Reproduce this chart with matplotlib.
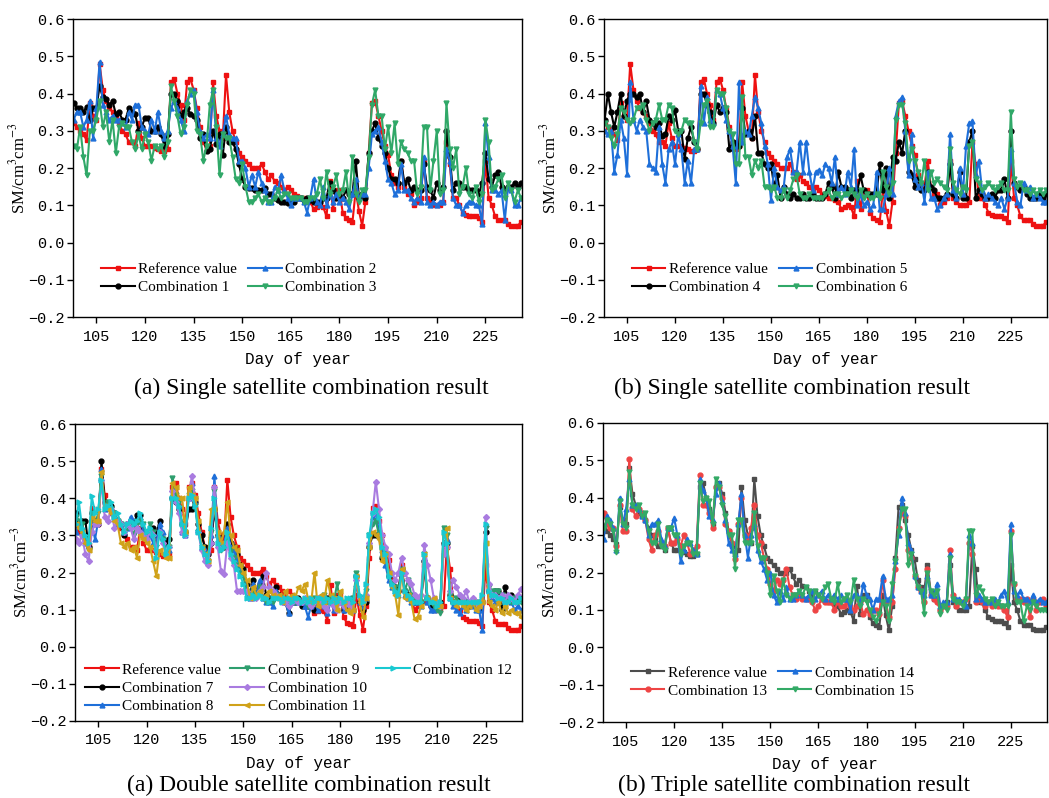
import matplotlib
matplotlib.use('Agg')
import matplotlib.pyplot as plt
import numpy as np

plt.rcParams['mathtext.fontset'] = 'stix'

# soil moisture, day of year 98..236
ref = [
    0.32, 0.31, 0.30, 0.29, 0.275, 0.375, 0.34, 0.33, 0.48, 0.41,   # 98
    0.38, 0.36, 0.35, 0.34, 0.32, 0.30, 0.29, 0.27, 0.27, 0.26,     # 108
    0.32, 0.28, 0.26, 0.26, 0.26, 0.255, 0.25, 0.245, 0.245, 0.25,  # 118
    0.43, 0.44, 0.40, 0.37, 0.33, 0.43, 0.44, 0.41, 0.36, 0.31,     # 128
    0.27, 0.25, 0.26, 0.43, 0.34, 0.30, 0.28, 0.45, 0.35, 0.30,     # 138
    0.27, 0.24, 0.23, 0.22, 0.21, 0.20, 0.20, 0.20, 0.21, 0.19,     # 148
    0.17, 0.18, 0.165, 0.16, 0.15, 0.14, 0.15, 0.14, 0.13, 0.125,   # 158
    0.12, 0.12, 0.115, 0.11, 0.09, 0.095, 0.10, 0.095, 0.07, 0.165,  # 168
    0.09, 0.14, 0.14, 0.08, 0.065, 0.06, 0.055, 0.14, 0.085, 0.045,  # 178
    0.11, 0.24, 0.375, 0.38, 0.34, 0.30, 0.26, 0.235, 0.18, 0.16,   # 188
    0.15, 0.22, 0.15, 0.13, 0.13, 0.10, 0.11, 0.12, 0.22, 0.12,     # 198
    0.11, 0.10, 0.10, 0.10, 0.11, 0.27, 0.21, 0.12, 0.12, 0.10,     # 208
    0.08, 0.075, 0.07, 0.07, 0.07, 0.065, 0.055, 0.22, 0.12, 0.10,  # 218
    0.07, 0.06, 0.06, 0.06, 0.05, 0.045, 0.045, 0.045, 0.055,       # 228
]

comb1 = [
    0.375, 0.36, 0.36, 0.35, 0.365, 0.33, 0.36, 0.36, 0.42, 0.39,
    0.385, 0.37, 0.38, 0.345, 0.35, 0.33, 0.33, 0.36, 0.35, 0.345,
    0.30, 0.31, 0.335, 0.335, 0.30, 0.30, 0.31, 0.29, 0.26, 0.29,
    0.40, 0.40, 0.38, 0.34, 0.35, 0.36, 0.345, 0.34, 0.33, 0.28,
    0.29, 0.245, 0.25, 0.30, 0.265, 0.29, 0.235, 0.31, 0.27, 0.27,
    0.25, 0.21, 0.17, 0.15, 0.145, 0.145, 0.14, 0.14, 0.14, 0.145,
    0.13, 0.13, 0.12, 0.115, 0.11, 0.11, 0.105, 0.11, 0.11, 0.12,
    0.12, 0.115, 0.12, 0.115, 0.11, 0.11, 0.11, 0.12, 0.12, 0.16,
    0.14, 0.12, 0.13, 0.12, 0.14, 0.13, 0.13, 0.22, 0.12, 0.13,
    0.12, 0.24, 0.30, 0.32, 0.28, 0.26, 0.24, 0.20, 0.17, 0.17,
    0.16, 0.22, 0.16, 0.17, 0.14, 0.15, 0.14, 0.14, 0.21, 0.15,
    0.14, 0.12, 0.16, 0.14, 0.15, 0.30, 0.23, 0.14, 0.16, 0.16,
    0.15, 0.15, 0.14, 0.14, 0.14, 0.13, 0.16, 0.24, 0.17, 0.15,
    0.18, 0.19, 0.15, 0.14, 0.15, 0.15, 0.16, 0.15, 0.16,
]

comb2 = [
    0.33, 0.35, 0.35, 0.31, 0.33, 0.38, 0.28, 0.36, 0.485, 0.37,
    0.35, 0.33, 0.34, 0.33, 0.33, 0.32, 0.31, 0.35, 0.33, 0.37,
    0.37, 0.31, 0.30, 0.29, 0.33, 0.30, 0.35, 0.30, 0.28, 0.30,
    0.36, 0.38, 0.36, 0.33, 0.30, 0.38, 0.40, 0.41, 0.35, 0.30,
    0.28, 0.29, 0.28, 0.41, 0.28, 0.26, 0.29, 0.34, 0.29, 0.28,
    0.28, 0.22, 0.22, 0.20, 0.15, 0.18, 0.15, 0.19, 0.16, 0.14,
    0.11, 0.11, 0.15, 0.14, 0.18, 0.14, 0.12, 0.10, 0.12, 0.12,
    0.12, 0.11, 0.08, 0.12, 0.17, 0.11, 0.10, 0.15, 0.10, 0.13,
    0.11, 0.13, 0.11, 0.12, 0.11, 0.09, 0.13, 0.17, 0.12, 0.13,
    0.13, 0.20, 0.29, 0.30, 0.31, 0.27, 0.22, 0.17, 0.16, 0.13,
    0.14, 0.21, 0.14, 0.14, 0.12, 0.11, 0.12, 0.11, 0.23, 0.11,
    0.10, 0.11, 0.10, 0.11, 0.11, 0.25, 0.22, 0.12, 0.10, 0.10,
    0.08, 0.10, 0.11, 0.11, 0.10, 0.10, 0.05, 0.32, 0.23, 0.14,
    0.14, 0.13, 0.14, 0.06, 0.15, 0.14, 0.10, 0.10, 0.12,
]

comb3 = [
    0.26, 0.25, 0.31, 0.23, 0.18, 0.30, 0.30, 0.33, 0.38, 0.31,
    0.35, 0.27, 0.33, 0.24, 0.31, 0.32, 0.31, 0.31, 0.27, 0.25,
    0.29, 0.25, 0.29, 0.27, 0.22, 0.26, 0.25, 0.26, 0.23, 0.27,
    0.42, 0.38, 0.34, 0.29, 0.31, 0.37, 0.41, 0.40, 0.30, 0.29,
    0.22, 0.26, 0.37, 0.41, 0.31, 0.18, 0.29, 0.28, 0.28, 0.23,
    0.17, 0.16, 0.21, 0.15, 0.11, 0.11, 0.12, 0.13, 0.11, 0.12,
    0.11, 0.11, 0.12, 0.14, 0.12, 0.13, 0.13, 0.12, 0.12, 0.12,
    0.12, 0.11, 0.11, 0.12, 0.12, 0.13, 0.17, 0.12, 0.19, 0.13,
    0.15, 0.18, 0.13, 0.14, 0.19, 0.11, 0.23, 0.13, 0.11, 0.14,
    0.14, 0.23, 0.37, 0.41, 0.34, 0.34, 0.25, 0.31, 0.24, 0.32,
    0.21, 0.27, 0.25, 0.24, 0.22, 0.22, 0.13, 0.15, 0.31, 0.31,
    0.14, 0.22, 0.30, 0.13, 0.14, 0.375, 0.25, 0.20, 0.25, 0.13,
    0.15, 0.20, 0.13, 0.12, 0.15, 0.11, 0.13, 0.33, 0.27, 0.14,
    0.15, 0.17, 0.18, 0.12, 0.16, 0.14, 0.11, 0.14, 0.12,
]

comb4 = [
    0.33, 0.40, 0.35, 0.31, 0.35, 0.40, 0.34, 0.38, 0.40, 0.40,
    0.39, 0.40, 0.35, 0.38, 0.33, 0.32, 0.31, 0.32, 0.285, 0.29,
    0.34, 0.33, 0.355, 0.30, 0.30, 0.225, 0.28, 0.31, 0.27, 0.25,
    0.40, 0.40, 0.37, 0.35, 0.32, 0.37, 0.35, 0.36, 0.35, 0.25,
    0.27, 0.26, 0.26, 0.36, 0.29, 0.30, 0.28, 0.34, 0.24, 0.24,
    0.21, 0.20, 0.21, 0.15, 0.18, 0.12, 0.15, 0.13, 0.12, 0.13,
    0.12, 0.12, 0.13, 0.12, 0.12, 0.13, 0.12, 0.12, 0.12, 0.13,
    0.16, 0.15, 0.12, 0.19, 0.15, 0.15, 0.14, 0.12, 0.14, 0.14,
    0.18, 0.14, 0.13, 0.13, 0.13, 0.13, 0.21, 0.14, 0.20, 0.12,
    0.23, 0.22, 0.27, 0.24, 0.30, 0.19, 0.18, 0.15, 0.17, 0.14,
    0.14, 0.19, 0.15, 0.14, 0.12, 0.12, 0.12, 0.13, 0.21, 0.13,
    0.12, 0.19, 0.12, 0.12, 0.27, 0.30, 0.12, 0.14, 0.13, 0.12,
    0.12, 0.13, 0.12, 0.14, 0.14, 0.17, 0.12, 0.30, 0.16, 0.15,
    0.14, 0.15, 0.13, 0.12, 0.12, 0.12, 0.13, 0.12, 0.13,
]

comb5 = [
    0.30, 0.29, 0.30, 0.19, 0.235, 0.33, 0.28, 0.185, 0.43, 0.33,
    0.30, 0.33, 0.31, 0.30, 0.21, 0.20, 0.19, 0.31, 0.21, 0.16,
    0.25, 0.27, 0.21, 0.29, 0.25, 0.16, 0.22, 0.16, 0.25, 0.25,
    0.42, 0.32, 0.39, 0.33, 0.32, 0.41, 0.40, 0.36, 0.33, 0.30,
    0.26, 0.16, 0.43, 0.27, 0.30, 0.29, 0.34, 0.39, 0.36, 0.32,
    0.26, 0.21, 0.115, 0.20, 0.15, 0.14, 0.15, 0.23, 0.25, 0.19,
    0.19, 0.27, 0.19, 0.27, 0.19, 0.14, 0.19, 0.195, 0.18, 0.21,
    0.20, 0.16, 0.23, 0.13, 0.15, 0.13, 0.19, 0.15, 0.25, 0.10,
    0.13, 0.10, 0.11, 0.09, 0.10, 0.19, 0.09, 0.09, 0.13, 0.20,
    0.13, 0.34, 0.38, 0.39, 0.30, 0.18, 0.29, 0.17, 0.15, 0.16,
    0.11, 0.19, 0.12, 0.12, 0.09, 0.10, 0.12, 0.13, 0.29, 0.14,
    0.12, 0.20, 0.13, 0.26, 0.32, 0.325, 0.18, 0.22, 0.14, 0.12,
    0.13, 0.12, 0.11, 0.10, 0.12, 0.09, 0.12, 0.25, 0.16, 0.11,
    0.10, 0.16, 0.14, 0.15, 0.12, 0.13, 0.12, 0.11, 0.11,
]

comb6 = [
    0.32, 0.31, 0.28, 0.26, 0.29, 0.36, 0.35, 0.33, 0.32, 0.33,
    0.36, 0.36, 0.37, 0.33, 0.30, 0.32, 0.33, 0.37, 0.33, 0.33,
    0.37, 0.36, 0.30, 0.29, 0.30, 0.33, 0.32, 0.32, 0.27, 0.25,
    0.32, 0.37, 0.38, 0.31, 0.31, 0.41, 0.40, 0.40, 0.36, 0.30,
    0.29, 0.21, 0.21, 0.39, 0.23, 0.23, 0.18, 0.22, 0.20, 0.22,
    0.15, 0.15, 0.14, 0.15, 0.12, 0.12, 0.14, 0.12, 0.14, 0.17,
    0.18, 0.13, 0.12, 0.12, 0.13, 0.12, 0.12, 0.12, 0.12, 0.13,
    0.14, 0.12, 0.13, 0.13, 0.12, 0.13, 0.13, 0.14, 0.13, 0.12,
    0.14, 0.12, 0.13, 0.12, 0.12, 0.13, 0.12, 0.19, 0.15, 0.13,
    0.16, 0.33, 0.37, 0.37, 0.32, 0.22, 0.25, 0.22, 0.19, 0.16,
    0.22, 0.14, 0.19, 0.16, 0.17, 0.16, 0.15, 0.14, 0.25, 0.16,
    0.14, 0.13, 0.15, 0.14, 0.26, 0.27, 0.17, 0.16, 0.14, 0.15,
    0.16, 0.15, 0.14, 0.15, 0.16, 0.14, 0.14, 0.35, 0.17, 0.15,
    0.16, 0.14, 0.14, 0.13, 0.14, 0.13, 0.14, 0.13, 0.14,
]

comb7 = [
    0.36, 0.33, 0.34, 0.34, 0.27, 0.36, 0.34, 0.33, 0.50, 0.39,
    0.38, 0.38, 0.36, 0.34, 0.33, 0.30, 0.33, 0.34, 0.33, 0.355,
    0.355, 0.30, 0.31, 0.30, 0.32, 0.30, 0.34, 0.29, 0.28, 0.29,
    0.40, 0.39, 0.37, 0.33, 0.31, 0.37, 0.37, 0.39, 0.33, 0.30,
    0.27, 0.25, 0.28, 0.37, 0.30, 0.27, 0.27, 0.33, 0.28, 0.27,
    0.25, 0.22, 0.21, 0.17, 0.14, 0.18, 0.15, 0.17, 0.19, 0.14,
    0.13, 0.13, 0.16, 0.14, 0.13, 0.12, 0.09, 0.12, 0.12, 0.13,
    0.11, 0.11, 0.11, 0.12, 0.10, 0.11, 0.12, 0.12, 0.13, 0.12,
    0.12, 0.13, 0.12, 0.10, 0.11, 0.12, 0.10, 0.19, 0.12, 0.10,
    0.12, 0.27, 0.30, 0.30, 0.30, 0.24, 0.25, 0.19, 0.17, 0.16,
    0.15, 0.21, 0.15, 0.14, 0.13, 0.12, 0.13, 0.12, 0.23, 0.13,
    0.11, 0.12, 0.11, 0.12, 0.28, 0.28, 0.14, 0.12, 0.12, 0.13,
    0.12, 0.12, 0.11, 0.12, 0.11, 0.10, 0.12, 0.31, 0.15, 0.14,
    0.15, 0.15, 0.10, 0.16, 0.13, 0.14, 0.13, 0.13, 0.13,
]

comb8 = [
    0.31, 0.33, 0.32, 0.28, 0.27, 0.33, 0.29, 0.34, 0.48, 0.37,
    0.38, 0.37, 0.36, 0.33, 0.33, 0.31, 0.32, 0.35, 0.33, 0.34,
    0.35, 0.31, 0.31, 0.30, 0.28, 0.28, 0.33, 0.31, 0.25, 0.26,
    0.41, 0.40, 0.38, 0.31, 0.30, 0.40, 0.44, 0.39, 0.32, 0.27,
    0.26, 0.24, 0.30, 0.46, 0.30, 0.27, 0.28, 0.32, 0.27, 0.26,
    0.24, 0.21, 0.20, 0.15, 0.13, 0.17, 0.14, 0.18, 0.13, 0.12,
    0.12, 0.11, 0.15, 0.14, 0.13, 0.12, 0.09, 0.12, 0.13, 0.12,
    0.12, 0.11, 0.08, 0.11, 0.12, 0.10, 0.13, 0.11, 0.09, 0.12,
    0.10, 0.13, 0.12, 0.10, 0.12, 0.13, 0.10, 0.17, 0.12, 0.11,
    0.13, 0.28, 0.35, 0.36, 0.31, 0.26, 0.22, 0.18, 0.16, 0.15,
    0.14, 0.20, 0.14, 0.13, 0.12, 0.12, 0.12, 0.11, 0.24, 0.12,
    0.10, 0.10, 0.11, 0.11, 0.28, 0.29, 0.13, 0.11, 0.10, 0.09,
    0.11, 0.10, 0.12, 0.11, 0.10, 0.10, 0.045, 0.33, 0.15, 0.13,
    0.12, 0.12, 0.13, 0.11, 0.14, 0.12, 0.10, 0.11, 0.10,
]

comb9 = [
    0.35, 0.34, 0.33, 0.29, 0.26, 0.36, 0.33, 0.36, 0.46, 0.38,
    0.39, 0.37, 0.36, 0.34, 0.33, 0.31, 0.32, 0.33, 0.30, 0.33,
    0.34, 0.33, 0.30, 0.33, 0.31, 0.27, 0.30, 0.29, 0.25, 0.27,
    0.455, 0.41, 0.39, 0.33, 0.31, 0.41, 0.42, 0.38, 0.31, 0.27,
    0.25, 0.23, 0.31, 0.42, 0.29, 0.26, 0.27, 0.30, 0.26, 0.24,
    0.22, 0.20, 0.19, 0.14, 0.13, 0.15, 0.14, 0.16, 0.13, 0.12,
    0.12, 0.12, 0.14, 0.13, 0.13, 0.12, 0.11, 0.12, 0.12, 0.12,
    0.12, 0.12, 0.11, 0.12, 0.13, 0.12, 0.13, 0.14, 0.12, 0.13,
    0.12, 0.17, 0.12, 0.11, 0.12, 0.12, 0.13, 0.20, 0.13, 0.12,
    0.15, 0.30, 0.33, 0.34, 0.30, 0.24, 0.26, 0.20, 0.17, 0.16,
    0.15, 0.21, 0.15, 0.18, 0.14, 0.13, 0.12, 0.12, 0.25, 0.13,
    0.12, 0.11, 0.10, 0.09, 0.32, 0.30, 0.14, 0.12, 0.13, 0.12,
    0.12, 0.11, 0.12, 0.12, 0.11, 0.12, 0.12, 0.32, 0.16, 0.15,
    0.15, 0.15, 0.14, 0.12, 0.13, 0.12, 0.13, 0.12, 0.12,
]

comb10 = [
    0.29, 0.28, 0.30, 0.25, 0.23, 0.31, 0.33, 0.33, 0.45, 0.35,
    0.34, 0.37, 0.32, 0.34, 0.33, 0.31, 0.33, 0.32, 0.29, 0.32,
    0.31, 0.30, 0.29, 0.31, 0.30, 0.26, 0.31, 0.28, 0.25, 0.27,
    0.42, 0.39, 0.36, 0.31, 0.30, 0.40, 0.46, 0.40, 0.31, 0.26,
    0.23, 0.22, 0.28, 0.43, 0.27, 0.205, 0.195, 0.28, 0.24, 0.22,
    0.15, 0.15, 0.15, 0.15, 0.13, 0.13, 0.13, 0.15, 0.16, 0.20,
    0.16, 0.15, 0.14, 0.13, 0.12, 0.12, 0.11, 0.12, 0.13, 0.12,
    0.12, 0.13, 0.12, 0.11, 0.12, 0.13, 0.12, 0.11, 0.10, 0.12,
    0.11, 0.10, 0.12, 0.11, 0.12, 0.11, 0.10, 0.18, 0.13, 0.12,
    0.14, 0.28, 0.36, 0.445, 0.37, 0.30, 0.27, 0.25, 0.20, 0.18,
    0.20, 0.24, 0.20, 0.18, 0.17, 0.14, 0.13, 0.14, 0.275, 0.22,
    0.18, 0.13, 0.12, 0.11, 0.25, 0.27, 0.15, 0.18, 0.16, 0.14,
    0.13, 0.15, 0.12, 0.13, 0.12, 0.11, 0.12, 0.35, 0.17, 0.14,
    0.14, 0.13, 0.14, 0.12, 0.14, 0.13, 0.12, 0.14, 0.155,
]

comb11 = [
    0.33, 0.32, 0.31, 0.28, 0.26, 0.35, 0.34, 0.34, 0.47, 0.38,
    0.37, 0.36, 0.34, 0.33, 0.28, 0.27, 0.28, 0.26, 0.27, 0.24,
    0.30, 0.29, 0.28, 0.27, 0.23, 0.19, 0.26, 0.25, 0.24, 0.24,
    0.44, 0.43, 0.40, 0.40, 0.31, 0.43, 0.41, 0.40, 0.34, 0.27,
    0.25, 0.23, 0.37, 0.37, 0.31, 0.28, 0.31, 0.39, 0.30, 0.27,
    0.26, 0.22, 0.20, 0.18, 0.13, 0.16, 0.14, 0.15, 0.13, 0.14,
    0.15, 0.14, 0.13, 0.14, 0.12, 0.15, 0.13, 0.14, 0.13, 0.16,
    0.15, 0.17, 0.13, 0.12, 0.20, 0.11, 0.14, 0.12, 0.18, 0.14,
    0.13, 0.10, 0.15, 0.12, 0.10, 0.09, 0.10, 0.19, 0.12, 0.08,
    0.13, 0.27, 0.31, 0.30, 0.29, 0.23, 0.25, 0.20, 0.16, 0.14,
    0.085, 0.21, 0.13, 0.14, 0.12, 0.075, 0.08, 0.11, 0.25, 0.13,
    0.12, 0.13, 0.11, 0.11, 0.30, 0.32, 0.13, 0.12, 0.11, 0.12,
    0.11, 0.10, 0.11, 0.12, 0.10, 0.11, 0.12, 0.28, 0.12, 0.11,
    0.10, 0.12, 0.09, 0.11, 0.09, 0.10, 0.09, 0.09, 0.08,
]

comb12 = [
    0.33, 0.39, 0.32, 0.30, 0.28, 0.405, 0.36, 0.37, 0.45, 0.37,
    0.38, 0.39, 0.35, 0.36, 0.33, 0.31, 0.33, 0.34, 0.33, 0.34,
    0.36, 0.33, 0.31, 0.32, 0.30, 0.24, 0.31, 0.29, 0.25, 0.27,
    0.40, 0.40, 0.38, 0.33, 0.30, 0.40, 0.41, 0.38, 0.31, 0.27,
    0.25, 0.23, 0.32, 0.40, 0.28, 0.26, 0.27, 0.31, 0.25, 0.23,
    0.21, 0.19, 0.17, 0.13, 0.13, 0.14, 0.13, 0.14, 0.13, 0.13,
    0.12, 0.13, 0.13, 0.13, 0.12, 0.13, 0.13, 0.12, 0.13, 0.13,
    0.12, 0.13, 0.12, 0.13, 0.12, 0.13, 0.13, 0.12, 0.13, 0.12,
    0.13, 0.12, 0.13, 0.12, 0.13, 0.13, 0.12, 0.19, 0.14, 0.12,
    0.17, 0.30, 0.36, 0.37, 0.35, 0.27, 0.25, 0.19, 0.17, 0.15,
    0.14, 0.20, 0.15, 0.14, 0.13, 0.12, 0.12, 0.12, 0.25, 0.13,
    0.12, 0.12, 0.11, 0.12, 0.31, 0.28, 0.13, 0.12, 0.12, 0.12,
    0.12, 0.12, 0.12, 0.12, 0.12, 0.12, 0.14, 0.33, 0.15, 0.14,
    0.14, 0.13, 0.13, 0.12, 0.12, 0.13, 0.12, 0.12, 0.13,
]

comb13 = [
    0.36, 0.33, 0.32, 0.32, 0.27, 0.38, 0.31, 0.31, 0.505, 0.37,
    0.35, 0.37, 0.36, 0.34, 0.29, 0.26, 0.30, 0.31, 0.28, 0.27,
    0.32, 0.28, 0.28, 0.29, 0.27, 0.30, 0.28, 0.25, 0.26, 0.27,
    0.46, 0.38, 0.38, 0.36, 0.32, 0.43, 0.43, 0.40, 0.33, 0.31,
    0.28, 0.235, 0.33, 0.40, 0.30, 0.29, 0.32, 0.38, 0.30, 0.28,
    0.24, 0.21, 0.17, 0.15, 0.18, 0.17, 0.18, 0.21, 0.16, 0.14,
    0.13, 0.14, 0.13, 0.13, 0.13, 0.12, 0.10, 0.11, 0.13, 0.12,
    0.12, 0.12, 0.10, 0.12, 0.11, 0.11, 0.12, 0.11, 0.10, 0.11,
    0.12, 0.09, 0.10, 0.09, 0.10, 0.10, 0.09, 0.18, 0.12, 0.08,
    0.12, 0.21, 0.32, 0.36, 0.35, 0.26, 0.24, 0.19, 0.16, 0.15,
    0.12, 0.21, 0.14, 0.13, 0.12, 0.10, 0.11, 0.11, 0.26, 0.14,
    0.11, 0.12, 0.12, 0.13, 0.28, 0.25, 0.12, 0.13, 0.12, 0.11,
    0.12, 0.11, 0.12, 0.11, 0.11, 0.10, 0.08, 0.31, 0.17, 0.13,
    0.13, 0.12, 0.13, 0.08, 0.13, 0.10, 0.12, 0.13, 0.11,
]

comb14 = [
    0.29, 0.35, 0.34, 0.32, 0.26, 0.40, 0.33, 0.37, 0.45, 0.38,
    0.38, 0.37, 0.35, 0.34, 0.30, 0.33, 0.33, 0.34, 0.29, 0.27,
    0.32, 0.32, 0.345, 0.30, 0.23, 0.26, 0.29, 0.28, 0.26, 0.25,
    0.45, 0.42, 0.40, 0.35, 0.34, 0.41, 0.44, 0.39, 0.34, 0.28,
    0.26, 0.25, 0.33, 0.41, 0.30, 0.24, 0.30, 0.33, 0.26, 0.23,
    0.21, 0.18, 0.20, 0.14, 0.12, 0.15, 0.13, 0.16, 0.13, 0.13,
    0.14, 0.15, 0.14, 0.13, 0.14, 0.15, 0.13, 0.14, 0.15, 0.13,
    0.14, 0.13, 0.14, 0.13, 0.14, 0.13, 0.13, 0.10, 0.14, 0.14,
    0.12, 0.17, 0.14, 0.13, 0.10, 0.13, 0.13, 0.19, 0.13, 0.13,
    0.14, 0.23, 0.30, 0.40, 0.36, 0.28, 0.26, 0.19, 0.16, 0.15,
    0.14, 0.19, 0.14, 0.14, 0.17, 0.11, 0.12, 0.12, 0.25, 0.13,
    0.13, 0.13, 0.12, 0.11, 0.30, 0.28, 0.13, 0.14, 0.13, 0.12,
    0.12, 0.12, 0.13, 0.12, 0.14, 0.15, 0.12, 0.33, 0.15, 0.14,
    0.15, 0.13, 0.13, 0.12, 0.14, 0.12, 0.13, 0.12, 0.12,
]

comb15 = [
    0.32, 0.34, 0.33, 0.31, 0.255, 0.39, 0.33, 0.32, 0.47, 0.38,
    0.37, 0.38, 0.35, 0.36, 0.31, 0.28, 0.28, 0.33, 0.27, 0.26,
    0.32, 0.32, 0.30, 0.30, 0.25, 0.27, 0.28, 0.28, 0.25, 0.25,
    0.44, 0.39, 0.40, 0.39, 0.33, 0.45, 0.43, 0.38, 0.35, 0.30,
    0.30, 0.21, 0.34, 0.34, 0.28, 0.28, 0.28, 0.36, 0.27, 0.24,
    0.24, 0.20, 0.14, 0.19, 0.15, 0.12, 0.18, 0.14, 0.13, 0.14,
    0.14, 0.15, 0.14, 0.16, 0.15, 0.12, 0.15, 0.14, 0.13, 0.16,
    0.17, 0.13, 0.12, 0.17, 0.12, 0.13, 0.14, 0.12, 0.18, 0.13,
    0.11, 0.13, 0.12, 0.10, 0.08, 0.07, 0.09, 0.12, 0.11, 0.07,
    0.17, 0.23, 0.31, 0.37, 0.37, 0.22, 0.25, 0.19, 0.16, 0.15,
    0.09, 0.20, 0.15, 0.14, 0.15, 0.09, 0.11, 0.10, 0.24, 0.13,
    0.12, 0.12, 0.11, 0.13, 0.31, 0.31, 0.14, 0.16, 0.15, 0.13,
    0.12, 0.13, 0.11, 0.12, 0.11, 0.11, 0.11, 0.30, 0.17, 0.12,
    0.12, 0.07, 0.11, 0.10, 0.12, 0.11, 0.10, 0.10, 0.10,
]

first_day = 98
xticks = [105, 120, 135, 150, 165, 180, 195, 210, 225]
yticks = [-0.2, -0.1, 0.0, 0.1, 0.2, 0.3, 0.4, 0.5, 0.6]
ytick_labels = ['\u22120.2', '\u22120.1', '0.0', '0.1', '0.2', '0.3', '0.4', '0.5', '0.6']

RED = '#ee1111'
BLUE = '#1e6fd9'
GREEN = '#30a868'

W, H = 1049, 798
fig = plt.figure(figsize=(W / 100, H / 100), dpi=100)


def px_rect(left, top, right, bottom):
    return [left / W, 1 - bottom / H, (right - left) / W, (bottom - top) / H]


def draw_panel(rect, series, caption, cap_x, cap_y, ncol, leg_xy, colspace):
    ax = fig.add_axes(rect)
    handles = []
    for vals, label, color, marker, ms in series:
        days = np.arange(first_day, first_day + len(vals))
        h, = ax.plot(days, vals, color=color, marker=marker, markersize=ms,
                     linewidth=1.5, label=label)
        handles.append(h)
    ax.set_xlim(97.8, 236.3)
    ax.set_ylim(-0.2, 0.6)
    ax.set_xticks(xticks)
    ax.set_xticklabels([str(t) for t in xticks], family='Liberation Mono', fontsize=11)
    ax.set_yticks(yticks)
    ax.set_yticklabels(ytick_labels, family='Liberation Mono', fontsize=11)
    ax.tick_params(axis='y', direction='out', length=4, width=1, pad=2)
    ax.tick_params(axis='x', direction='out', length=4, width=1, pad=5)
    for s in ax.spines.values():
        s.set_linewidth(1.0)
    ax.set_xlabel('Day of year', family='Liberation Mono', fontsize=11.5, labelpad=6)
    ax.set_ylabel('SM/cm$^{3}$cm$^{-3}$', family='Liberation Serif', fontsize=12)
    ax.yaxis.set_label_coords(-0.10, 0.5)
    labels = [h.get_label() for h in handles]
    if ncol == 3:
        # keep the reference layout: 3 + 3 + 1 entries
        blank = plt.Line2D([], [], linestyle='none')
        handles = handles + [blank, blank]
        labels = labels + ['', '']
    ax.legend(handles, labels, ncol=ncol, loc='lower left', bbox_to_anchor=leg_xy,
              frameon=False, prop={'family': 'Liberation Serif', 'size': 11},
              handlelength=2.2, handletextpad=0.25, columnspacing=colspace,
              labelspacing=0.3, numpoints=1, borderpad=0.3)
    fig.text(cap_x / W, 1 - cap_y / H, caption, ha='center', va='center',
             family='Liberation Serif', fontsize=17)
    return ax


draw_panel(px_rect(73, 19, 522, 317),
           [(ref, 'Reference value', RED, 's', 3.5),
            (comb1, 'Combination 1', 'black', 'o', 3.5),
            (comb2, 'Combination 2', BLUE, '^', 3.5),
            (comb3, 'Combination 3', GREEN, 'v', 3.5)],
           '(a) Single satellite combination result', 311, 388, 2, (0.035, 0.035), 0.7)

draw_panel(px_rect(604, 19, 1047, 317),
           [(ref, 'Reference value', RED, 's', 3.5),
            (comb4, 'Combination 4', 'black', 'o', 3.5),
            (comb5, 'Combination 5', BLUE, '^', 3.5),
            (comb6, 'Combination 6', GREEN, 'v', 3.5)],
           '(b) Single satellite combination result', 792, 388, 2, (0.035, 0.035), 0.7)

draw_panel(px_rect(75, 424, 522, 721),
           [(ref, 'Reference value', RED, 's', 3.5),
            (comb7, 'Combination 7', 'black', 'o', 3.5),
            (comb8, 'Combination 8', BLUE, '^', 3.5),
            (comb9, 'Combination 9', '#2e9e6e', 'v', 3.5),
            (comb10, 'Combination 10', '#a97be0', 'D', 3.0),
            (comb11, 'Combination 11', '#d0a21a', '<', 3.5),
            (comb12, 'Combination 12', '#19c9d1', '>', 3.5)],
           '(a) Double satellite combination result', 309, 785, 3, (-0.005, -0.015), 0.6)

draw_panel(px_rect(603, 423, 1047, 722),
           [(ref, 'Reference value', '#4d4d4d', 's', 3.5),
            (comb13, 'Combination 13', '#ee4444', 'o', 3.5),
            (comb14, 'Combination 14', BLUE, '^', 3.5),
            (comb15, 'Combination 15', '#33aa66', 'v', 3.5)],
           '(b) Triple satellite combination result', 794, 785, 2, (0.035, 0.04), 0.7)

fig.savefig('out.png', dpi=100)
